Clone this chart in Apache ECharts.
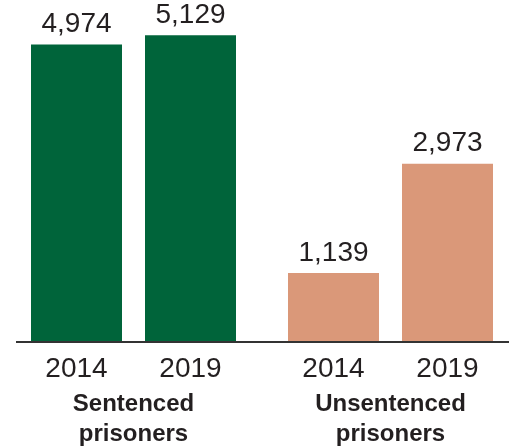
<!DOCTYPE html>
<html>
<head>
<meta charset="utf-8">
<script src="https://cdn.jsdelivr.net/npm/echarts@6/dist/echarts.min.js"></script>
<style>html,body{margin:0;padding:0;background:#fff}#c{width:509px;height:448px}</style>
</head>
<body>
<div id="c"></div>
<script>
const years = ['2014', '2019'];
const groupNames = ['Sentenced\nprisoners', 'Unsentenced\nprisoners'];
const sentenced = [4974, 5129];
const unsentenced = [1139, 2973];
const colors = ['#00643A', '#DA9879'];

const chart = echarts.init(document.getElementById('c'), null, {renderer: 'canvas'});
const FONT = '"Liberation Sans", Arial, sans-serif';
const TXT = '#231F20';
const yMax = 5200;

function xAx(i) {
  return {
    type: 'category', gridIndex: i, data: years,
    axisLine: {show: false}, axisTick: {show: false},
    axisLabel: {color: TXT, fontSize: 28, fontFamily: FONT, margin: 14},
    name: groupNames[i], nameLocation: 'middle', nameGap: 48,
    nameTextStyle: {color: TXT, fontSize: 24, fontWeight: 'bold', fontFamily: FONT, lineHeight: 30}
  };
}
function yAx(i) {
  return {type: 'value', gridIndex: i, min: 0, max: yMax, show: false};
}
function ser(i, data) {
  return {
    type: 'bar', xAxisIndex: i, yAxisIndex: i, data: data, barWidth: 91,
    itemStyle: {color: colors[i]},
    label: {show: true, position: 'top', distance: 6, color: TXT, fontSize: 28, fontFamily: FONT,
      formatter: p => p.value.toLocaleString('en-US')}
  };
}

chart.setOption({
  animation: false,
  grid: [
    {left: 19.5, width: 228, top: 31, bottom: 107, containLabel: false, outerBoundsMode: 'none'},
    {left: 276.5, width: 228, top: 31, bottom: 107, containLabel: false, outerBoundsMode: 'none'}
  ],
  xAxis: [xAx(0), xAx(1)],
  yAxis: [yAx(0), yAx(1)],
  series: [ser(0, sentenced), ser(1, unsentenced)],
  graphic: [{
    type: 'line', shape: {x1: 16, y1: 342, x2: 509, y2: 342},
    style: {stroke: '#333333', lineWidth: 2}, z: 10
  }]
});
</script>
</body>
</html>
